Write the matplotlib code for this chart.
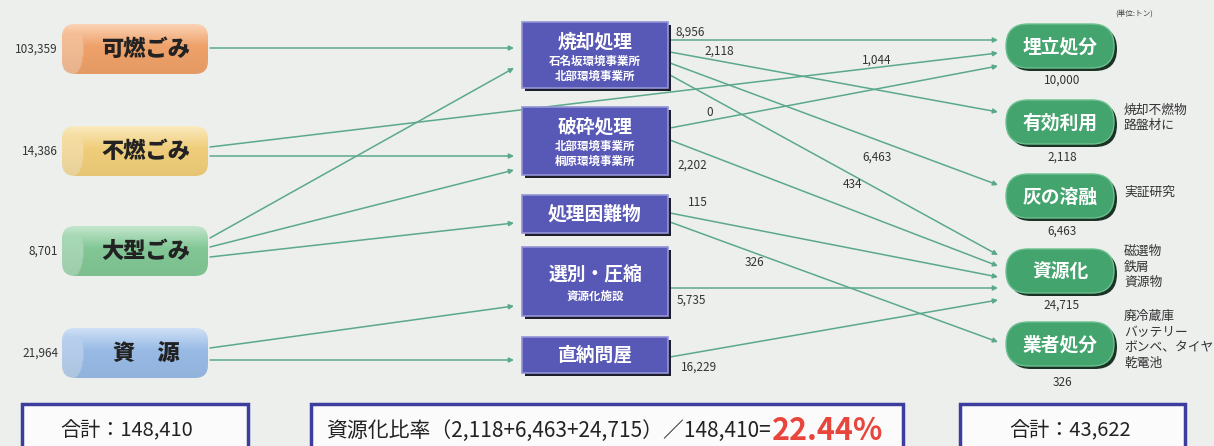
import numpy as np
import matplotlib
matplotlib.use("Agg")
import matplotlib.pyplot as plt
from matplotlib.patches import FancyBboxPatch, Rectangle
from matplotlib.colors import to_rgb

plt.rcParams['font.family'] = ['Noto Sans CJK JP', 'DejaVu Sans']

# --- データ (単位:トン) ---
sources = ['可燃ごみ', '不燃ごみ', '大型ごみ', '資　源']
source_vals = [103359, 14386, 8701, 21964]

procs = ['焼却処理', '破砕処理', '処理困難物', '選別・圧縮', '直納問屋']
proc_subs = [['石名坂環境事業所', '北部環境事業所'],
             ['北部環境事業所', '桐原環境事業所'],
             [],
             ['資源化施設'],
             []]

dests = ['埋立処分', '有効利用', '灰の溶融', '資源化', '業者処分']
dest_vals = [10000, 2118, 6463, 24715, 326]
dest_notes = [[], ['焼却不燃物', '路盤材に'], ['実証研究'],
              ['磁選物', '鉄屑', '資源物'],
              ['廃冷蔵庫', 'バッテリー', 'ボンベ、タイヤ', '乾電池']]

# 搬入: ごみ種別 -> 処理
in_flows = [('可燃ごみ', '焼却処理'), ('不燃ごみ', '破砕処理'),
            ('大型ごみ', '焼却処理'), ('大型ごみ', '破砕処理'),
            ('大型ごみ', '処理困難物'), ('資　源', '選別・圧縮'),
            ('資　源', '直納問屋')]
# 搬出: 処理 -> 処分先 (不燃ごみは一部直接埋立)
out_flows = [('焼却処理', '埋立処分', 8956), ('焼却処理', '有効利用', 2118),
             ('焼却処理', '灰の溶融', 6463), ('焼却処理', '資源化', 434),
             ('不燃ごみ', '埋立処分', 1044),
             ('破砕処理', '埋立処分', 0), ('破砕処理', '資源化', 2202),
             ('処理困難物', '資源化', 115), ('処理困難物', '業者処分', 326),
             ('選別・圧縮', '資源化', 5735), ('直納問屋', '資源化', 16229)]

total_in = 148410
total_out = 43622
ratio = 22.44

# --- レイアウト (ピクセル座標) ---
src_box = dict(x=62, w=146, h=50, yc=[49, 151, 251, 353])
src_colors = ['#f6a66c', '#f7d47e', '#86cd9a', '#9dc0ec']
proc_box = dict(x=522, w=146, y=[22, 107, 195, 247, 337], h=[66, 68, 38, 69, 36])
dest_box = dict(x=1006, w=108, h=44, yc=[46, 122, 196, 271, 344])
dest_val_y = [80, 157, 231, 305, 383]

# 線の端点 y (始点, 終点)
in_ports = [(48, 48), (156, 156), (238, 68), (247, 170), (257, 223), (348, 306), (360, 360)]
out_ports = [(40, 40), (52, 112), (63, 185), (75, 255), (147, 53),
             (128, 66), (140, 266), (213, 277), (222, 342), (288, 288), (357, 300)]
out_label_pos = [(676, 32), (704, 51), (862, 157), (843, 184), (862, 60),
                 (706, 113), (677, 165), (688, 203), (745, 262), (677, 300), (681, 367)]

line_c = '#5ba98a'
bg = '#edefed'

fig = plt.figure(figsize=(12.14, 4.46), dpi=100)
fig.patch.set_facecolor(bg)
ax = fig.add_axes([0, 0, 1, 1])
ax.set_facecolor(bg)


def arrow(x0, y0, x1, y1):
    ax.annotate('', xy=(x1, y1), xytext=(x0, y0),
                arrowprops=dict(arrowstyle='-|>', color=line_c, lw=1.1,
                                mutation_scale=7, shrinkA=0, shrinkB=0),
                zorder=1)


def fmt(v):
    return f'{v:,}'


# ごみ種別 (円柱)
for i, name in enumerate(sources):
    x, w, h = src_box['x'], src_box['w'], src_box['h']
    y = src_box['yc'][i] - h / 2
    patch = FancyBboxPatch((x, y), w, h, boxstyle='round,pad=0,rounding_size=13',
                           fc='none', ec='none', zorder=2)
    ax.add_patch(patch)
    ny, nx = 60, 150
    yy = np.linspace(0, 1, ny)[:, None]
    xx = np.linspace(0, 1, nx)[None, :] * w
    base = np.array(to_rgb(src_colors[i]))
    t = 0.5 * np.clip(1 - yy / 0.45, 0, 1) + 0 * xx
    cap = xx < 12 + 9 * np.sqrt(np.clip(1 - (2 * yy - 1) ** 2, 0, 1))
    t = np.where(cap, np.maximum(t, 0.3), t)
    img = base * (1 - t[..., None]) + t[..., None]
    img = img * (1 - 0.07 * yy[..., None])
    im = ax.imshow(np.clip(img, 0, 1), extent=(x, x + w, y + h, y), aspect='auto',
                   interpolation='bilinear', zorder=2)
    im.set_clip_path(patch)
    ax.text(x + w / 2 + 11, src_box['yc'][i], name, ha='center', va='center',
            fontsize=16, fontweight='black', color='#222222', zorder=3)
    ax.text(58, src_box['yc'][i], fmt(source_vals[i]), ha='right', va='center',
            fontsize=8.5, color='#333333')

# 処理施設 (四角)
for i, name in enumerate(procs):
    x, w = proc_box['x'], proc_box['w']
    y, h = proc_box['y'][i], proc_box['h'][i]
    ax.add_patch(Rectangle((x + 3, y + 3), w, h, fc='#1d1d2c', ec='none', zorder=2))
    ax.add_patch(Rectangle((x, y), w, h, fc='#5858b6', ec='#9494d8', lw=1.2, zorder=3))
    subs = proc_subs[i]
    if len(subs) == 2:
        ys = [y + 20, y + 39, y + 54]
    elif len(subs) == 1:
        ys = [y + h / 2 - 8, y + h / 2 + 15]
    else:
        ys = [y + h / 2]
    ax.text(x + w / 2, ys[0], name, ha='center', va='center', fontsize=13.5,
            fontweight='bold', color='white', zorder=4)
    for s, yy in zip(subs, ys[1:]):
        ax.text(x + w / 2, yy, s, ha='center', va='center', fontsize=8.3,
                fontweight='bold', color='white', zorder=4)

# 処分先 (カプセル)
for i, name in enumerate(dests):
    x, w, h = dest_box['x'], dest_box['w'], dest_box['h']
    y = dest_box['yc'][i] - h / 2
    ax.add_patch(FancyBboxPatch((x + 3, y + 3), w, h, boxstyle='round,pad=0,rounding_size=22',
                                fc='#1a3324', ec='none', zorder=2))
    ax.add_patch(FancyBboxPatch((x, y), w, h, boxstyle='round,pad=0,rounding_size=22',
                                fc='#43a46e', ec='#6cc08f', lw=1, zorder=3))
    ax.text(x + w / 2, dest_box['yc'][i] + 1, name, ha='center', va='center',
            fontsize=13.5, fontweight='bold', color='white', zorder=4)
    ax.text(x + w / 2 + 2, dest_val_y[i], fmt(dest_vals[i]), ha='center', va='center',
            fontsize=8.5, color='#333333')
    for k, note in enumerate(dest_notes[i]):
        n = len(dest_notes[i])
        ny0 = dest_box['yc'][i] - 8 - (n - 1) * 15.5 / 2 + 4
        ax.text(1124, ny0 + k * 15.5, note, ha='left', va='center',
                fontsize=9.2, color='#333333')

ax.text(1134, 14, '(単位:トン)', ha='center', va='center', fontsize=5.5, color='#444444')

# 流れ線
sx0 = src_box['x'] + src_box['w'] + 2
px0 = proc_box['x'] - 8
px1 = proc_box['x'] + proc_box['w'] + 2
dx0 = dest_box['x'] - 8
for (a, b), (y0, y1) in zip(in_flows, in_ports):
    arrow(sx0, y0, px0, y1)
for (a, b, v), (y0, y1), (lx, ly) in zip(out_flows, out_ports, out_label_pos):
    x0 = sx0 if a in sources else px1
    arrow(x0, y0, dx0, y1)
    ax.text(lx, ly, fmt(v), ha='left', va='center', fontsize=8.5, color='#333333')

# 下部の合計欄
edge = '#3d3d9e'
for (bx, bw) in [(22, 226), (311, 592), (960, 225)]:
    ax.add_patch(Rectangle((bx, 404), bw, 60, fc='#fbfbfb', ec=edge, lw=2.5, zorder=2))
ax.text(127, 431, f'合計：{fmt(total_in)}', ha='center', va='center',
        fontsize=14.5, color='#222222', zorder=3)
ax.text(1070, 431, f'合計：{fmt(total_out)}', ha='center', va='center',
        fontsize=14.5, color='#222222', zorder=3)
t1 = ax.text(326, 431, '資源化比率（2,118+6,463+24,715）／148,410=',
             ha='left', va='center', fontsize=15, color='#222222', zorder=3)
ax.annotate(f'{ratio:.2f}%', xy=(1, 0.5), xycoords=t1, xytext=(1, 0),
            textcoords='offset points', ha='left', va='center', fontsize=22,
            fontweight='bold', color='#e8463c', zorder=3)

ax.set_xlim(0, 1214)
ax.set_ylim(446, 0)
ax.axis('off')
fig.savefig('out.png', dpi=100, facecolor=bg)
